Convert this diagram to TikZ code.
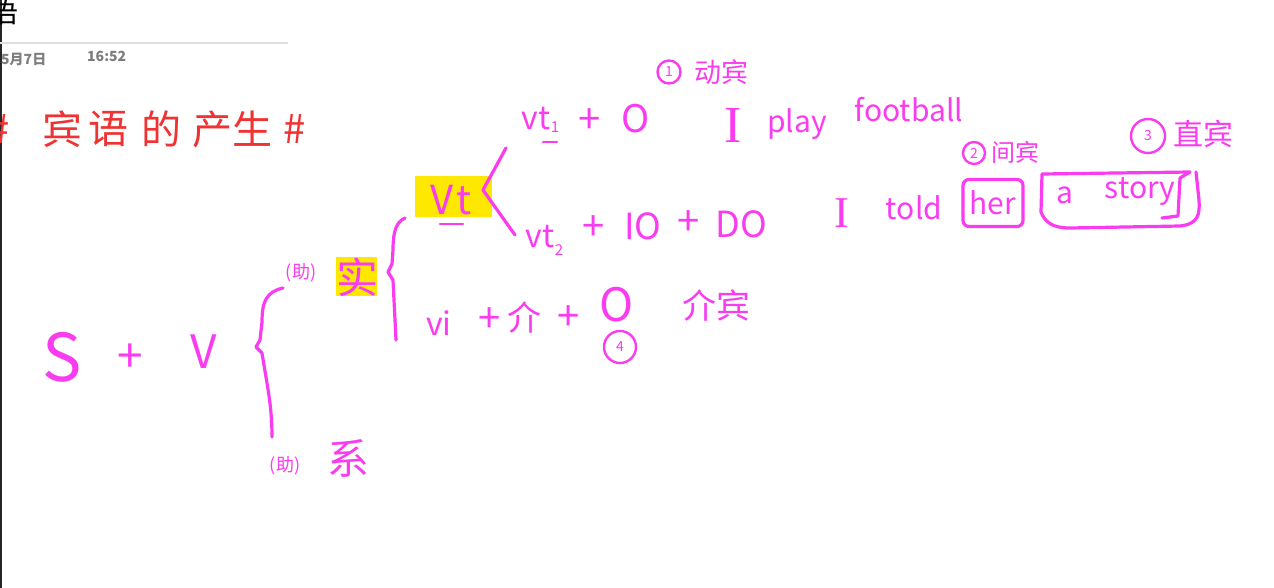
\documentclass[tikz,border=0pt]{standalone}
\usepackage{fontspec}
\usepackage{xcolor}
\usepackage{tikz}
\usetikzlibrary{positioning, calc}
\newfontfamily\cjk{Noto Sans CJK SC}
\newfontfamily\romanI{Liberation Serif}
\definecolor{pen}{RGB}{250,60,240}
\definecolor{titlered}{RGB}{240,50,50}
\definecolor{hl}{RGB}{255,232,0}
\definecolor{stamp}{RGB}{125,125,125}

\begin{document}
\begin{tikzpicture}[x=1pt, y=-1pt,
    word/.style={text=pen, inner sep=0pt, font=\cjk\fontsize{#1}{#1}\selectfont},
    word/.default=30,
    roman/.style={text=pen, inner sep=0pt, font=\romanI\fontsize{#1}{#1}\selectfont},
    title/.style={text=titlered, inner sep=0pt, font=\cjk\fontsize{40}{40}\selectfont},
    stroke/.style={draw=pen, line width=3.2pt, line cap=round, line join=round},
    hilite/.style={fill=hl, inner sep=0pt},
    num/.style={circle, draw=pen, line width=2.4pt, text=pen, inner sep=0pt,
                font=\cjk\fontsize{14}{14}\selectfont},
]
    \useasboundingbox[fill=white] (0,0) rectangle (1274,588);
    \draw[black!85, line width=2pt] (1,0) -- (1,588);

    % ── Page header ───────────────────────────────
    \node[inner sep=0pt, font=\cjk\fontsize{30}{30}\selectfont] (pagename) at (4,12) {语};
    \draw[gray!25, line width=2pt] (0,43) -- (288,43);
    \node[anchor=west, inner sep=0pt, text=stamp, font=\cjk\bfseries\fontsize{14}{14}\selectfont]
         (date) at (1,59) {5月7日};
    \node[anchor=west, inner sep=0pt, text=stamp, font=\cjk\bfseries\fontsize{14}{14}\selectfont]
         (time) at (87,56) {16:52};

    % ── Title ─────────────────────────────────────
    \foreach \ch/\xx [count=\i] in {\#/-1, 宾/62, 语/108, 的/161, 产/212, 生/252, \#/295}
        \node[title] (title\i) at (\xx,129) {\ch};

    % ── S + V and the big brace ───────────────────
    \node[word=66] (subj) at (62,357) {S};
    \node[word=46] (plusA) at (130,358) {+};
    \node[word=46] (verb) at (204,352) {V};
    \draw[stroke] (283,288) .. controls (266,292) and (262,302) .. (262,322)
         -- (260,340) -- (256,347) -- (262,353)
         .. controls (267,385) and (272,405) .. (272,437);

    % ── (助)实 / (助)系 ───────────────────────────
    \node[hilite, minimum width=41, minimum height=39] (shihl) at (356,276) {};
    \node[word=42] (shi) at (357,277) {实};
    \node[word=18] (zhuA) at (301,273) {(助)};
    \node[word=18] (zhuB) at (285,466) {(助)};
    \node[word=42] (xi) at (348,458) {系};
    \draw[stroke] (405,218) .. controls (396,222) and (393,232) .. (393,250)
         -- (392,264) -- (388,272) -- (393,280) -- (396,340);

    % ── Vt and its fork ───────────────────────────
    \node[hilite, minimum width=77, minimum height=41] (vthl) at (453,197) {};
    \node[word=40] (vt) at (451,200) {V\kern3pt t};
    \draw[stroke, line width=2.4pt] (440,224) -- (463,224);
    \coordinate (forktop) at (506,148);
    \coordinate (fork) at (483,190);
    \coordinate (forkbot) at (515,235);
    \draw[stroke] (forktop) -- (fork) -- (forkbot);

    % ── Vt1 + O ───────────────────────────────────
    \node[word=32] (vtone) at (536,119) {vt};
    \node[word=15] (vtonesub) at (555,127) {1};
    \draw[stroke, line width=2.4pt] (543,142) -- (557,142);
    \node[word=40] (plusB) at (590,121) {+};
    \node[word=38] (objA) at (636,119) {O};
    \node[num, minimum size=23] (nA) at (669,72) {1};
    \node[word=27] (dongbin) at (721,72) {动宾};
    \node[roman=52] (iA) at (733,125) {I};
    \node[word=30] (play) at (797,124) {play};
    \node[word=30] (football) at (909,110) {football};

    % ── Vt2 + IO + DO ─────────────────────────────
    \node[word=32] (vttwo) at (540,237) {vt};
    \node[word=15] (vttwosub) at (559,250) {2};
    \node[word=40] (plusC) at (594,228) {+};
    \node[word=36] (io) at (643,226) {IO};
    \node[word=40] (plusD) at (689,223) {+};
    \node[word=36] (do) at (741,224) {DO};
    \node[roman=44] (iB) at (842,213) {I};
    \node[word=30] (told) at (914,208) {told};
    \node[word=30, draw=pen, line width=3.2pt, rounded corners=6pt,
          minimum width=60, minimum height=47] (her) at (993,203) {her};
    \node[word=30] (a) at (1065,195) {a};
    \node[word=30] (story) at (1140,192) {story};
    \draw[stroke] (1162,218) -- (1178,216) -- (1180,178) -- (1190,172) -- (1042,174)
         -- (1041,212) .. controls (1045,222) and (1052,228) .. (1070,228) -- (1180,226)
         .. controls (1198,224) and (1200,215) .. (1199,200) -- (1196,172);
    \node[num, minimum size=22] (nB) at (974,153) {2};
    \node[word=24] (jianbin) at (1015,152) {间宾};
    \node[num, minimum size=34] (nC) at (1148,136) {3};
    \node[word=30] (zhibin) at (1203,134) {直宾};

    % ── vi + 介 + O ───────────────────────────────
    \node[word=32] (vi) at (439,323) {vi};
    \node[word=40] (plusE) at (490,320) {+};
    \node[word=34] (jie) at (524,317) {介};
    \node[word=40] (plusF) at (569,318) {+};
    \node[word=46] (objB) at (617,305) {O};
    \node[num, minimum size=32] (nD) at (620,347) {4};
    \node[word=34] (jiebin) at (716,305) {介宾};
\end{tikzpicture}
\end{document}
